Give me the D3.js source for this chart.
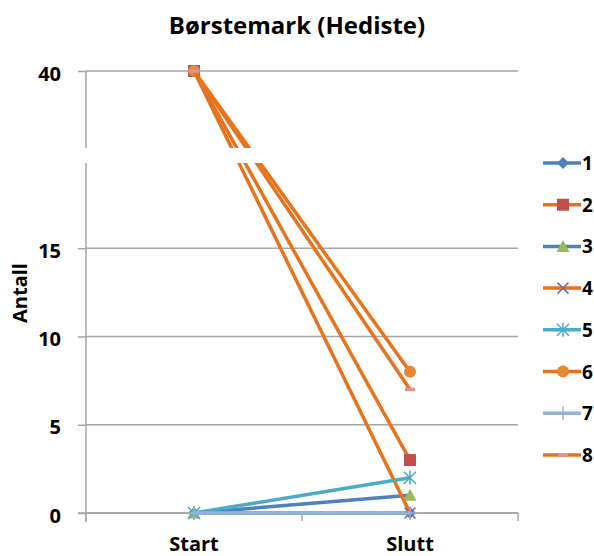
<!DOCTYPE html>
<html>
<head>
<meta charset="utf-8">
<script src="https://cdn.jsdelivr.net/npm/d3@7"></script>
<style>
  html, body { margin: 0; padding: 0; background: #fff; }
  svg { display: block; font-family: "Open Sans", Lato, sans-serif; }
</style>
</head>
<body>
<svg id="chart" width="594" height="556"></svg>
<script>
// Categories and values
const categories = ["Start", "Slutt"];
const seriesNames = ["1", "2", "3", "4", "5", "6", "7", "8"];
const s1 = [0, 0];
const s2 = [40, 3];
const s3 = [0, 1];
const s4 = [40, 0];
const s5 = [0, 2];
const s6 = [40, 8];
const s7 = [0, 0];
const s8 = [40, 7];
const yTicks = [0, 5, 10, 15, 40];
const title = "Børstemark (Hediste)";
const yTitle = "Antall";

const seriesValues = [s1, s2, s3, s4, s5, s6, s7, s8];

// Styling per series: line colour, marker shape, marker colour
const styles = [
  { line: "#4F81BD", marker: "diamond", fill: "#4F81BD" },
  { line: "#E8731C", marker: "square",  fill: "#C0504D" },
  { line: "#4F81BD", marker: "triangle", fill: "#9BBB59" },
  { line: "#E8731C", marker: "x",       fill: "#8064A2" },
  { line: "#4BACC6", marker: "star",    fill: "#4BACC6" },
  { line: "#E8731C", marker: "circle",  fill: "#E58735" },
  { line: "#95B3D7", marker: "plus",    fill: "#95B3D7" },
  { line: "#E8731C", marker: "dash",    fill: "#D99694" }
];

const FONT = "'Open Sans', Lato, sans-serif";
const svg = d3.select("#chart");
const plot = { left: 86, right: 518, top: 71, bottom: 513 };

const x = d3.scaleBand().domain(categories).range([plot.left, plot.right]);
// Broken value axis: 0–20 runs on a linear scale, 20–40 is compressed above the break
const y = d3.scaleLinear().domain([0, 20, 40]).range([plot.bottom, 160, plot.top]);

const grid = "#A6A6A6";

// Gridlines
svg.append("g").selectAll("line").data(yTicks).join("line")
  .attr("x1", plot.left).attr("x2", plot.right)
  .attr("y1", d => y(d)).attr("y2", d => y(d))
  .attr("stroke", grid).attr("stroke-width", 1.5);

// Y axis
const yAxis = svg.append("g")
  .attr("transform", `translate(${plot.left},0)`)
  .call(d3.axisLeft(y).tickValues(yTicks).tickSize(8).tickPadding(17).tickFormat(d3.format("d")));
yAxis.select(".domain").attr("stroke", grid).attr("stroke-width", 1.5)
  .attr("d", `M0,${plot.top}V${plot.bottom + 9}`);
yAxis.selectAll(".tick line").attr("stroke", grid).attr("stroke-width", 1.5);
yAxis.selectAll(".tick text")
  .attr("fill", "#000").attr("font-size", 20).attr("font-weight", 700)
  .attr("font-family", FONT).attr("dy", "0.45em");

// X axis
const xAxis = svg.append("g")
  .attr("transform", `translate(0,${plot.bottom})`)
  .call(d3.axisBottom(x).tickSize(0).tickPadding(24));
xAxis.select(".domain").attr("stroke", grid).attr("stroke-width", 1.5)
  .attr("d", `M${plot.left - 8},0H${plot.right}`);
xAxis.selectAll(".tick text")
  .attr("fill", "#000").attr("font-size", 20).attr("font-weight", 700)
  .attr("font-family", FONT);
// Category boundary ticks
const bounds = [plot.left, plot.left + x.bandwidth(), plot.right];
xAxis.append("g").selectAll("line").data(bounds).join("line")
  .attr("x1", d => d).attr("x2", d => d).attr("y1", 0).attr("y2", 8)
  .attr("stroke", grid).attr("stroke-width", 1.5);

const cx = c => x(c) + x.bandwidth() / 2;

// Marker drawing
function drawMarker(g, kind, fill, px, py) {
  switch (kind) {
    case "diamond":
      g.append("path").attr("d", `M${px},${py - 6}L${px + 6},${py}L${px},${py + 6}L${px - 6},${py}Z`).attr("fill", fill);
      break;
    case "square":
      g.append("rect").attr("x", px - 6).attr("y", py - 6).attr("width", 12).attr("height", 12).attr("fill", fill);
      break;
    case "triangle":
      g.append("path").attr("d", `M${px},${py - 6.5}L${px + 6.5},${py + 5.5}L${px - 6.5},${py + 5.5}Z`).attr("fill", fill);
      break;
    case "x":
      g.append("path").attr("d", `M${px - 5.5},${py - 5.5}L${px + 5.5},${py + 5.5}M${px + 5.5},${py - 5.5}L${px - 5.5},${py + 5.5}`)
        .attr("stroke", fill).attr("stroke-width", 1.5).attr("fill", "none");
      break;
    case "star":
      g.append("path").attr("d", `M${px - 6},${py - 6}L${px + 6},${py + 6}M${px + 6},${py - 6}L${px - 6},${py + 6}M${px},${py - 7}V${py + 7}`)
        .attr("stroke", fill).attr("stroke-width", 1.5).attr("fill", "none");
      break;
    case "circle":
      g.append("circle").attr("cx", px).attr("cy", py).attr("r", 6).attr("fill", fill);
      break;
    case "plus":
      g.append("path").attr("d", `M${px - 7},${py}H${px + 7}M${px},${py - 7}V${py + 7}`)
        .attr("stroke", fill).attr("stroke-width", 1.5).attr("fill", "none");
      break;
    case "dash":
      g.append("rect").attr("x", px - 5).attr("y", py - 1.75).attr("width", 10).attr("height", 3.5).attr("fill", fill);
      break;
  }
}

// Series lines and markers
const line = d3.line().x((d, i) => cx(categories[i])).y(d => y(d));
seriesValues.forEach((vals, k) => {
  const g = svg.append("g");
  g.append("path").attr("d", line(vals))
    .attr("fill", "none").attr("stroke", styles[k].line).attr("stroke-width", 3.5);
  vals.forEach((v, i) => drawMarker(g, styles[k].marker, styles[k].fill, cx(categories[i]), y(v)));
});

// Break band across the value axis
svg.append("rect").attr("x", plot.left - 10).attr("y", 148)
  .attr("width", plot.right - plot.left + 14).attr("height", 15).attr("fill", "#fff");

// Title
svg.append("text").attr("x", 297).attr("y", 34).attr("text-anchor", "middle")
  .attr("font-size", 24).attr("font-weight", 700).attr("fill", "#000").text(title);

// Y axis title
svg.append("text").attr("transform", "translate(27,293) rotate(-90)")
  .attr("text-anchor", "middle").attr("font-size", 20).attr("font-weight", 700)
  .attr("fill", "#000").text(yTitle);

// Legend
const legend = svg.append("g");
seriesNames.forEach((name, k) => {
  const ly = 163 + k * 41.7;
  legend.append("line").attr("x1", 543).attr("x2", 581).attr("y1", ly).attr("y2", ly)
    .attr("stroke", styles[k].line).attr("stroke-width", 3.5);
  drawMarker(legend, styles[k].marker, styles[k].fill, 563, ly);
  legend.append("text").attr("x", 582).attr("y", ly).attr("dy", "0.37em")
    .attr("font-size", 19).attr("font-weight", 700).attr("fill", "#000").text(name);
});
</script>
</body>
</html>
